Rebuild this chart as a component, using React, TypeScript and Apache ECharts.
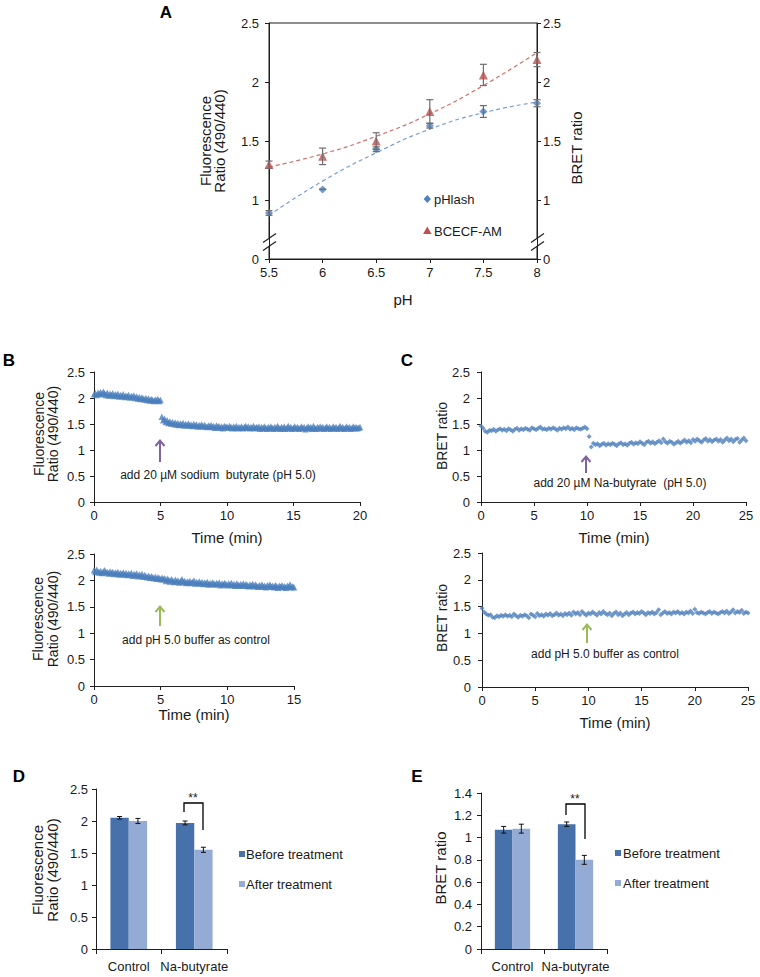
import React, { useEffect, useRef } from "react";
import * as echarts from "echarts";

// ---------- Panel A ----------
const phValues = [5.5, 6, 6.5, 7, 7.5, 8];
const pHlashRatio = [0.89, 1.09, 1.43, 1.63, 1.75, 1.82];
const pHlashErr = [0.02, 0.0, 0.02, 0.02, 0.05, 0.03];
const bcecfRatio = [1.3, 1.37, 1.5, 1.75, 2.06, 2.19];
const bcecfErr = [0.03, 0.07, 0.07, 0.1, 0.09, 0.06];
const pHlashTrend = [0.87, 1.16, 1.4, 1.6, 1.74, 1.83];
const bcecfTrend = [1.28, 1.39, 1.54, 1.73, 1.97, 2.25];
const aTickLabels: Record<string, string> = { "0.5": "0", "1": "1", "1.5": "1.5", "2": "2", "2.5": "2.5" };

// ---------- Panel B (fluorescence ratio traces) ----------
const bTopStep = 0.1; // min
const bTopRatio = [
  2.07, 2.09, 2.06, 2.1, 2.08, 2.11, 2.07, 2.12, 2.09, 2.06, 2.1,
  2.05, 2.08, 2.06, 2.09, 2.04, 2.07, 2.05, 2.08, 2.03, 2.06,
  2.04, 2.07, 2.02, 2.05, 2.03, 2.06, 2.01, 2.04, 2.02, 2.05,
  2.0, 2.03, 1.99, 2.02, 1.98, 2.01, 1.99, 1.97, 2.0, 1.96,
  1.99, 1.95, 1.98, 1.96, 1.94, 1.97, 1.95, 1.98, 1.94, 1.96,
  1.64, 1.57, 1.6, 1.54, 1.57, 1.52, 1.55, 1.51, 1.54, 1.5,
  1.53, 1.49, 1.52, 1.48, 1.51, 1.49, 1.52, 1.47, 1.5, 1.48,
  1.51, 1.47, 1.49, 1.46, 1.5, 1.47, 1.49, 1.45, 1.48, 1.46,
  1.49, 1.45, 1.48, 1.46, 1.44, 1.47, 1.45, 1.48, 1.44, 1.46,
  1.43, 1.47, 1.44, 1.46, 1.43, 1.45, 1.42, 1.46, 1.44, 1.45,
  1.43, 1.46, 1.44, 1.42, 1.45, 1.43, 1.46, 1.42, 1.44, 1.43,
  1.45, 1.42, 1.44, 1.46, 1.43, 1.45, 1.42, 1.44, 1.43, 1.46,
  1.42, 1.44, 1.43, 1.45, 1.41, 1.44, 1.42, 1.45, 1.43, 1.41,
  1.44, 1.42, 1.45, 1.43, 1.41, 1.44, 1.42, 1.46, 1.43, 1.41,
  1.44, 1.42, 1.45, 1.41, 1.43, 1.46, 1.42, 1.44, 1.41, 1.43,
  1.45, 1.42, 1.44, 1.41, 1.43, 1.45, 1.42, 1.44, 1.4, 1.43,
  1.45, 1.42, 1.44, 1.41, 1.46, 1.43, 1.41, 1.44, 1.42, 1.45,
  1.42, 1.44, 1.41, 1.43, 1.45, 1.42, 1.44, 1.41, 1.43, 1.45,
  1.42, 1.44, 1.41, 1.43, 1.46, 1.42, 1.44, 1.41, 1.43, 1.45,
  1.42, 1.44, 1.41, 1.43, 1.45, 1.42, 1.44, 1.42, 1.43, 1.44,
];
const bBottomStep = 0.1;
const bBottomRatio = [
  2.19, 2.16, 2.2, 2.17, 2.15, 2.18, 2.14, 2.17, 2.19, 2.15, 2.16,
  2.13, 2.17, 2.14, 2.16, 2.12, 2.15, 2.13, 2.16, 2.11, 2.14,
  2.12, 2.15, 2.11, 2.14, 2.1, 2.13, 2.11, 2.14, 2.09, 2.12,
  2.1, 2.13, 2.08, 2.11, 2.09, 2.12, 2.07, 2.1, 2.08, 2.06,
  2.09, 2.05, 2.08, 2.06, 2.04, 2.07, 2.03, 2.06, 2.04, 2.02,
  2.05, 2.02, 2.04, 1.99, 2.03, 2.01, 1.98, 2.02, 2.0, 1.97,
  2.01, 1.98, 2.0, 1.96, 1.99, 2.02, 1.97, 1.99, 1.95, 1.98,
  1.96, 1.99, 1.95, 1.97, 2.0, 1.94, 1.97, 1.95, 1.98, 1.94,
  1.97, 1.93, 1.96, 1.94, 1.97, 1.92, 1.95, 1.93, 1.96, 1.94,
  1.92, 1.95, 1.93, 1.96, 1.91, 1.94, 1.92, 1.95, 1.93, 1.91,
  1.94, 1.92, 1.95, 1.91, 1.93, 1.9, 1.94, 1.92, 1.9, 1.93,
  1.91, 1.94, 1.9, 1.93, 1.91, 1.89, 1.92, 1.9, 1.93, 1.89,
  1.92, 1.9, 1.88, 1.91, 1.89, 1.92, 1.88, 1.9, 1.87, 1.91,
  1.89, 1.92, 1.88, 1.9, 1.87, 1.91, 1.89, 1.86, 1.9, 1.88,
  1.91, 1.87, 1.89, 1.86, 1.9, 1.88, 1.92, 1.87, 1.89, 1.87,
];

// ---------- Panel C (BRET ratio traces) ----------
const cTopStep = 0.2;
const cTopBret = [
  1.46, 1.42, 1.36, 1.34, 1.38, 1.37, 1.4, 1.36, 1.39, 1.41, 1.38,
  1.4, 1.37, 1.41, 1.39, 1.36, 1.4, 1.42, 1.38, 1.41, 1.39,
  1.42, 1.4, 1.38, 1.43, 1.41, 1.39, 1.42, 1.44, 1.4, 1.41,
  1.39, 1.42, 1.4, 1.43, 1.41, 1.38, 1.42, 1.4, 1.43, 1.41,
  1.44, 1.4, 1.42, 1.39, 1.43, 1.41, 1.4, 1.42, 1.44, 1.41,
  1.26, 1.06, 1.13, 1.1, 1.12, 1.08, 1.11, 1.13, 1.09, 1.12,
  1.1, 1.13, 1.11, 1.08, 1.12, 1.14, 1.1, 1.12, 1.09, 1.13,
  1.15, 1.11, 1.14, 1.12, 1.16, 1.13, 1.1, 1.15, 1.17, 1.13,
  1.16, 1.12, 1.15, 1.18, 1.14, 1.21, 1.16, 1.13, 1.17, 1.15,
  1.11, 1.14, 1.17, 1.13, 1.16, 1.19, 1.15, 1.18, 1.14, 1.2,
  1.17, 1.21, 1.18, 1.15, 1.19, 1.22, 1.17, 1.2, 1.16, 1.19,
  1.21, 1.17, 1.2, 1.15, 1.19, 1.23, 1.18, 1.21, 1.16, 1.2,
  1.22, 1.15, 1.19, 1.23, 1.18,
];
const cBottomStep = 0.2;
const cBottomBret = [
  1.47, 1.4, 1.36, 1.34, 1.35, 1.3, 1.29, 1.33, 1.31, 1.34, 1.32,
  1.35, 1.32, 1.34, 1.31, 1.36, 1.33, 1.3, 1.34, 1.32, 1.35,
  1.33, 1.29, 1.36, 1.34, 1.31, 1.37, 1.33, 1.35, 1.32, 1.36,
  1.34, 1.37, 1.33, 1.35, 1.38, 1.34, 1.36, 1.33, 1.37, 1.35,
  1.38, 1.34, 1.4, 1.36, 1.39, 1.35, 1.41, 1.37, 1.34, 1.38,
  1.36, 1.4, 1.37, 1.34, 1.39, 1.36, 1.41, 1.37, 1.35, 1.38,
  1.33, 1.37, 1.4, 1.35, 1.38, 1.33, 1.36, 1.39, 1.35, 1.38,
  1.4, 1.36, 1.39, 1.37, 1.41, 1.38, 1.35, 1.39, 1.37, 1.4,
  1.36, 1.39, 1.44, 1.35, 1.38, 1.41, 1.37, 1.39, 1.36, 1.4,
  1.38, 1.41, 1.37, 1.39, 1.36, 1.4, 1.38, 1.42, 1.37, 1.45,
  1.39, 1.37, 1.4, 1.38, 1.36, 1.39, 1.41, 1.37, 1.4, 1.38,
  1.36, 1.39, 1.41, 1.38, 1.42, 1.37, 1.4, 1.44, 1.38, 1.41,
  1.39, 1.43, 1.37, 1.4, 1.38,
];

// ---------- Panels D & E (bars) ----------
const groupCategories = ["Control", "Na-butyrate"];
const dBefore = [2.05, 1.97];
const dBeforeErr = [0.02, 0.03];
const dAfter = [2.0, 1.55];
const dAfterErr = [0.04, 0.04];
const eBefore = [1.07, 1.12];
const eBeforeErr = [0.03, 0.02];
const eAfter = [1.08, 0.8];
const eAfterErr = [0.04, 0.04];

const FONT = '"Liberation Sans", Arial, Helvetica, sans-serif';
const AX = "#1f1f1f";
const TXT = "#1a1a1a";
const BLUE = "#4F81BD";
const RED = "#C0504D";
const BAR_DARK = "#4671AA";
const BAR_LIGHT = "#94ABD5";
const PURPLE = "#8064A2";
const GREEN = "#9BBB59";
const CAT_GAP = 0.44;

const toPairs = (xs: number[], ys: number[]) => xs.map((x, i) => [x, ys[i]]);
const toTrace = (vals: number[], step: number) => vals.map((v, i) => [+(i * step).toFixed(3), v]);
const toErr = (xs: number[], ys: number[], es: number[]) =>
  xs.map((x, i) => [x, ys[i] - es[i], ys[i] + es[i]]);
const toBarErr = (ys: number[], es: number[]) => ys.map((y, i) => [i, y - es[i], y + es[i]]);

function errRenderer(capHalf: number, color: string, lw: number, side: number) {
  return (params: any, api: any) => {
    const x = api.value(0);
    const lo = api.coord([x, api.value(1)]);
    const hi = api.coord([x, api.value(2)]);
    let off = 0;
    if (side !== 0) {
      const band = api.size([1, 0])[0];
      const bw = (band * (1 - CAT_GAP)) / 2;
      off = (side * bw) / 2;
    }
    const cx = lo[0] + off;
    const st = { stroke: color, lineWidth: lw };
    return {
      type: "group",
      children: [
        { type: "line", shape: { x1: cx, y1: lo[1], x2: cx, y2: hi[1] }, style: st },
        { type: "line", shape: { x1: cx - capHalf, y1: lo[1], x2: cx + capHalf, y2: lo[1] }, style: st },
        { type: "line", shape: { x1: cx - capHalf, y1: hi[1], x2: cx + capHalf, y2: hi[1] }, style: st },
      ],
    };
  };
}

const axisLineCfg = { show: true, lineStyle: { color: AX, width: 1 } };
const axisTickCfg = { show: true, length: 4, lineStyle: { color: AX } };
const lbl = (size: number, extra: any = {}) => ({ color: TXT, fontSize: size, fontFamily: FONT, ...extra });

function valX(grid: number, max: number, interval: number, min = 0, extra: any = {}) {
  return {
    type: "value",
    gridIndex: grid,
    min,
    max,
    interval,
    axisLine: { ...axisLineCfg, onZero: false },
    axisTick: axisTickCfg,
    splitLine: { show: false },
    axisLabel: lbl(13, { margin: 7 }),
    ...extra,
  };
}
function valY(grid: number, max: number, interval: number, extra: any = {}) {
  return {
    type: "value",
    gridIndex: grid,
    min: 0,
    max,
    interval,
    axisLine: axisLineCfg,
    axisTick: axisTickCfg,
    splitLine: { show: false },
    axisLabel: lbl(13, { margin: 9 }),
    ...extra,
  };
}

function txt(text: string, x: number, y: number, size: number, opts: any = {}) {
  const { rotation, ...style } = opts;
  return {
    type: "text",
    x,
    y,
    rotation: rotation || 0,
    silent: true,
    style: {
      text,
      fill: TXT,
      fontSize: size,
      fontFamily: FONT,
      align: "center",
      verticalAlign: "middle",
      ...style,
    },
  };
}
function arrow(x: number, tipY: number, tailY: number, color: string) {
  return {
    type: "group",
    silent: true,
    children: [
      { type: "line", shape: { x1: x, y1: tipY + 1, x2: x, y2: tailY }, style: { stroke: color, lineWidth: 2 } },
      {
        type: "polyline",
        shape: { points: [[x - 4.5, tipY + 6], [x, tipY + 0.5], [x + 4.5, tipY + 6]] },
        style: { stroke: color, lineWidth: 2, fill: null },
      },
    ],
  };
}
function bracket(x1: number, yl: number, top: number, x2: number, yr: number) {
  return {
    type: "polyline",
    silent: true,
    shape: { points: [[x1, yl], [x1, top], [x2, top], [x2, yr]] },
    style: { stroke: "#000", lineWidth: 1.3, fill: null },
  };
}
function breakMark(x: number) {
  return {
    type: "group",
    silent: true,
    children: [
      { type: "rect", shape: { x: x - 4, y: 238, width: 8, height: 8 }, style: { fill: "#fff" } },
      { type: "line", shape: { x1: x - 6, y1: 242.5, x2: x + 7, y2: 233.5 }, style: { stroke: AX, lineWidth: 1.2 } },
      { type: "line", shape: { x1: x - 6, y1: 250.5, x2: x + 7, y2: 241.5 }, style: { stroke: AX, lineWidth: 1.2 } },
    ],
  };
}

export default function App() {
  const ref = useRef<HTMLDivElement>(null);
  useEffect(() => {
    if (!ref.current) return;
    const chart = echarts.init(ref.current, null, { renderer: "svg" });

    const catAxis = (grid: number) => ({
      type: "category",
      gridIndex: grid,
      data: groupCategories,
      axisLine: axisLineCfg,
      axisTick: { ...axisTickCfg, length: 5 },
      axisLabel: lbl(13, { margin: 11, interval: 0 }),
    });

    const option: any = {
      animation: false,
      backgroundColor: "#fff",
      textStyle: { fontFamily: FONT },
      grid: [
        { left: 269, top: 23, width: 268, height: 236, show: true, borderColor: AX, borderWidth: 1, backgroundColor: "transparent" },
        { left: 94, top: 372, width: 266, height: 130 },
        { left: 94, top: 554, width: 200, height: 132 },
        { left: 481, top: 372, width: 265, height: 130 },
        { left: 482, top: 553, width: 266, height: 134 },
        { left: 96, top: 789, width: 131, height: 160 },
        { left: 481, top: 793, width: 126, height: 156 },
      ],
      xAxis: [
        valX(0, 8, 0.5, 5.5),
        valX(1, 20, 5),
        valX(2, 15, 5),
        valX(3, 25, 5),
        valX(4, 25, 5),
        catAxis(5),
        catAxis(6),
      ],
      yAxis: [
        {
          ...valY(0, 2.5, 0.5),
          min: 0.5,
          axisLabel: lbl(13, { margin: 10, formatter: (v: number) => aTickLabels[String(v)] ?? String(v) }),
        },
        {
          ...valY(0, 2.5, 0.5),
          min: 0.5,
          position: "right",
          axisLabel: lbl(13, { margin: 6, formatter: (v: number) => aTickLabels[String(v)] ?? String(v) }),
        },
        valY(1, 2.5, 0.5),
        valY(2, 2.5, 0.5),
        { ...valY(3, 2.5, 0.5), axisLabel: lbl(13, { margin: 11 }) },
        { ...valY(4, 2.5, 0.5), axisLabel: lbl(13, { margin: 11 }) },
        { ...valY(5, 2.5, 0.5), axisLabel: lbl(13, { margin: 8 }) },
        { ...valY(6, 1.4, 0.2), axisLabel: lbl(13, { margin: 9 }) },
      ],
      series: [
        // Panel A trend lines
        {
          name: "pHlash trend",
          type: "line",
          xAxisIndex: 0,
          yAxisIndex: 0,
          smooth: true,
          showSymbol: false,
          symbol: "none",
          data: toPairs(phValues, pHlashTrend),
          lineStyle: { color: "#7A9ED2", width: 1.2, type: [4, 3] },
          z: 2,
        },
        {
          name: "BCECF trend",
          type: "line",
          xAxisIndex: 0,
          yAxisIndex: 0,
          smooth: true,
          showSymbol: false,
          symbol: "none",
          data: toPairs(phValues, bcecfTrend),
          lineStyle: { color: "#D0706C", width: 1.2, type: [4, 3] },
          z: 2,
        },
        // Panel A points
        {
          name: "pHlash",
          type: "scatter",
          xAxisIndex: 0,
          yAxisIndex: 0,
          symbol: "diamond",
          symbolSize: 8,
          itemStyle: { color: BLUE },
          data: toPairs(phValues, pHlashRatio),
          z: 4,
        },
        {
          name: "BCECF-AM",
          type: "scatter",
          xAxisIndex: 0,
          yAxisIndex: 0,
          symbol: "triangle",
          symbolSize: 9,
          itemStyle: { color: RED },
          data: toPairs(phValues, bcecfRatio),
          z: 4,
        },
        // Panel A error bars
        {
          name: "pHlash error",
          type: "custom",
          xAxisIndex: 0,
          yAxisIndex: 0,
          renderItem: errRenderer(3.5, "#6E6E6E", 1.2, 0),
          data: toErr(phValues, pHlashRatio, pHlashErr),
          z: 5,
        },
        {
          name: "BCECF error",
          type: "custom",
          xAxisIndex: 0,
          yAxisIndex: 0,
          renderItem: errRenderer(3.5, "#6E6E6E", 1.2, 0),
          data: toErr(phValues, bcecfRatio, bcecfErr),
          z: 5,
        },
        // Panel B
        {
          name: "B sodium butyrate",
          type: "scatter",
          xAxisIndex: 1,
          yAxisIndex: 2,
          symbol: "triangle",
          symbolSize: 6.5,
          itemStyle: { color: "#4A7EBB" },
          data: toTrace(bTopRatio, bTopStep),
        },
        {
          name: "B control",
          type: "scatter",
          xAxisIndex: 2,
          yAxisIndex: 3,
          symbol: "triangle",
          symbolSize: 6.5,
          itemStyle: { color: "#4A7EBB" },
          data: toTrace(bBottomRatio, bBottomStep),
        },
        // Panel C
        {
          name: "C Na-butyrate",
          type: "scatter",
          xAxisIndex: 3,
          yAxisIndex: 4,
          symbol: "diamond",
          symbolSize: 5,
          itemStyle: { color: "#4F81BD" },
          data: toTrace(cTopBret, cTopStep),
        },
        {
          name: "C control",
          type: "scatter",
          xAxisIndex: 4,
          yAxisIndex: 5,
          symbol: "diamond",
          symbolSize: 5,
          itemStyle: { color: "#4F81BD" },
          data: toTrace(cBottomBret, cBottomStep),
        },
        // Panel D bars
        {
          name: "Before treatment",
          type: "bar",
          xAxisIndex: 5,
          yAxisIndex: 6,
          barGap: "0%",
          barCategoryGap: "44%",
          itemStyle: { color: BAR_DARK },
          data: dBefore,
        },
        {
          name: "After treatment",
          type: "bar",
          xAxisIndex: 5,
          yAxisIndex: 6,
          barGap: "0%",
          barCategoryGap: "44%",
          itemStyle: { color: BAR_LIGHT },
          data: dAfter,
        },
        {
          name: "D before error",
          type: "custom",
          xAxisIndex: 5,
          yAxisIndex: 6,
          renderItem: errRenderer(2.5, "#111", 1, -1),
          data: toBarErr(dBefore, dBeforeErr),
          z: 5,
        },
        {
          name: "D after error",
          type: "custom",
          xAxisIndex: 5,
          yAxisIndex: 6,
          renderItem: errRenderer(2.5, "#111", 1, 1),
          data: toBarErr(dAfter, dAfterErr),
          z: 5,
        },
        // Panel E bars
        {
          name: "Before treatment",
          type: "bar",
          xAxisIndex: 6,
          yAxisIndex: 7,
          barGap: "0%",
          barCategoryGap: "44%",
          itemStyle: { color: BAR_DARK },
          data: eBefore,
        },
        {
          name: "After treatment",
          type: "bar",
          xAxisIndex: 6,
          yAxisIndex: 7,
          barGap: "0%",
          barCategoryGap: "44%",
          itemStyle: { color: BAR_LIGHT },
          data: eAfter,
        },
        {
          name: "E before error",
          type: "custom",
          xAxisIndex: 6,
          yAxisIndex: 7,
          renderItem: errRenderer(2.5, "#111", 1, -1),
          data: toBarErr(eBefore, eBeforeErr),
          z: 5,
        },
        {
          name: "E after error",
          type: "custom",
          xAxisIndex: 6,
          yAxisIndex: 7,
          renderItem: errRenderer(2.5, "#111", 1, 1),
          data: toBarErr(eAfter, eAfterErr),
          z: 5,
        },
      ],
      graphic: [
        // panel letters
        txt("A", 166, 12, 17, { fontWeight: "bold", fill: "#000" }),
        txt("B", 9, 360, 17, { fontWeight: "bold", fill: "#000" }),
        txt("C", 407, 360, 17, { fontWeight: "bold", fill: "#000" }),
        txt("D", 19, 776, 17, { fontWeight: "bold", fill: "#000" }),
        txt("E", 417, 776, 17, { fontWeight: "bold", fill: "#000" }),
        // Panel A
        txt("Fluorescence\nRatio (490/440)", 212, 141, 15, { rotation: Math.PI / 2, lineHeight: 14 }),
        txt("BRET ratio", 576, 148, 15, { rotation: Math.PI / 2 }),
        txt("pH", 403, 299, 15),
        breakMark(269),
        breakMark(537),
        {
          type: "polygon",
          silent: true,
          shape: { points: [[427.3, 195], [431, 199], [427.3, 203], [423.6, 199]] },
          style: { fill: BLUE },
        },
        txt("pHlash", 434, 199, 13, { align: "left" }),
        {
          type: "polygon",
          silent: true,
          shape: { points: [[427.3, 226.5], [431.5, 234], [423.1, 234]] },
          style: { fill: RED },
        },
        txt("BCECF-AM", 434, 231, 13, { align: "left" }),
        // Panel B
        txt("Fluorescence\nRatio (490/440)", 46, 434, 14, { rotation: Math.PI / 2, lineHeight: 14 }),
        txt("Time (min)", 227, 537, 15),
        arrow(160, 440, 462, PURPLE),
        txt("add 20 µM sodium  butyrate (pH 5.0)", 218, 475, 12),
        txt("Fluorescence\nRatio (490/440)", 45, 619, 14, { rotation: Math.PI / 2, lineHeight: 15 }),
        txt("Time (min)", 194, 714, 15),
        arrow(160, 606, 626, GREEN),
        txt("add pH 5.0 buffer as control", 196, 640, 12),
        // Panel C
        txt("BRET ratio", 442, 436, 14, { rotation: Math.PI / 2 }),
        txt("Time (min)", 614, 537, 15),
        arrow(586, 456, 473, PURPLE),
        txt("add 20 µM Na-butyrate  (pH 5.0)", 620, 483, 12),
        txt("BRET ratio", 442, 618, 14, { rotation: Math.PI / 2 }),
        txt("Time (min)", 615, 722, 15),
        arrow(587, 624, 643, GREEN),
        txt("add pH 5.0 buffer as control", 605, 654, 12),
        // Panel D
        txt("Fluorescence\nRatio (490/440)", 45, 870, 15, { rotation: Math.PI / 2, lineHeight: 15 }),
        bracket(184, 812, 803, 203, 830),
        txt("**", 193, 798, 12),
        { type: "rect", silent: true, shape: { x: 239, y: 851, width: 6, height: 6 }, style: { fill: BAR_DARK } },
        txt("Before treatment", 246, 854, 13, { align: "left" }),
        { type: "rect", silent: true, shape: { x: 239, y: 881, width: 6, height: 6 }, style: { fill: BAR_LIGHT } },
        txt("After treatment", 246, 884, 13, { align: "left" }),
        // Panel E
        txt("BRET ratio", 440, 868, 15, { rotation: Math.PI / 2 }),
        bracket(566, 815, 804, 585, 839),
        txt("**", 575, 799, 12),
        { type: "rect", silent: true, shape: { x: 615, y: 850, width: 6, height: 6 }, style: { fill: BAR_DARK } },
        txt("Before treatment", 623, 853, 13, { align: "left" }),
        { type: "rect", silent: true, shape: { x: 615, y: 880, width: 6, height: 6 }, style: { fill: BAR_LIGHT } },
        txt("After treatment", 623, 883, 13, { align: "left" }),
      ],
    };

    chart.setOption(option);
    return () => chart.dispose();
  }, []);

  return (
    <div
      ref={ref}
      style={{ position: "fixed", left: 0, top: 0, width: 760, height: 977, background: "#fff" }}
    />
  );
}
